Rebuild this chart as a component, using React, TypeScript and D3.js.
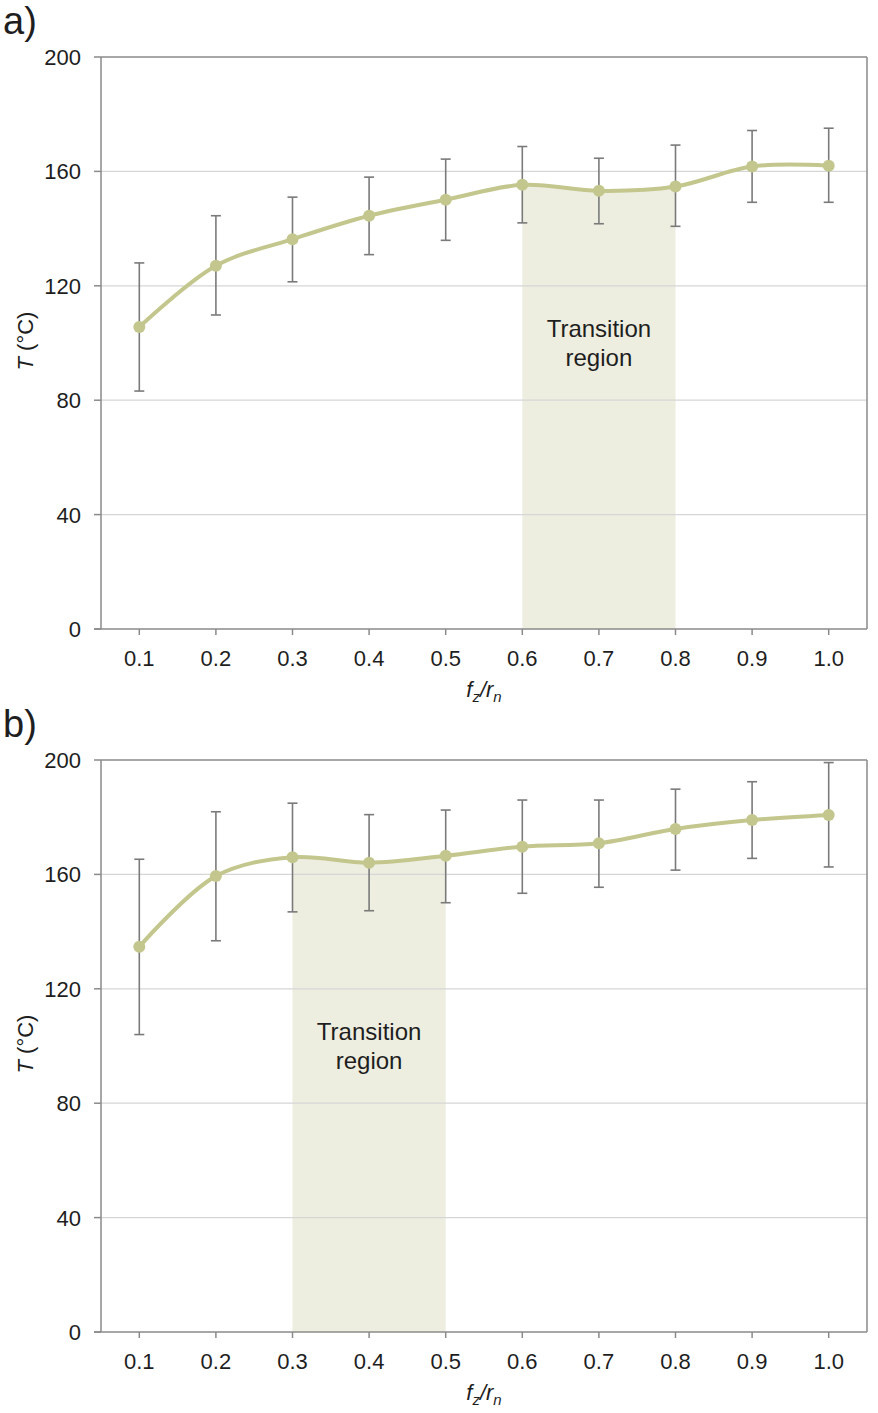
import * as d3 from "d3";

const xLabels = ["0.1", "0.2", "0.3", "0.4", "0.5", "0.6", "0.7", "0.8", "0.9", "1.0"];
const yTicks = [0, 40, 80, 120, 160, 200];

// panel a
const tempA = [105.6, 127, 136.3, 144.5, 150.1, 155.3, 153.2, 154.7, 161.7, 162];
const errHighA = [128, 144.5, 151, 158, 164.3, 168.7, 164.6, 169.2, 174.3, 175.1];
const errLowA = [83.2, 109.8, 121.4, 130.9, 135.9, 142, 141.7, 140.8, 149.2, 149.2];
const transitionA = ["0.6", "0.8"];

// panel b
const tempB = [134.7, 159.4, 166, 164.1, 166.5, 169.7, 170.9, 175.9, 179, 180.8];
const errHighB = [165.3, 181.9, 184.9, 180.9, 182.5, 186, 186, 189.8, 192.4, 199.1];
const errLowB = [104, 136.8, 146.9, 147.3, 150.1, 153.4, 155.5, 161.5, 165.6, 162.6];
const transitionB = ["0.3", "0.5"];

const FONT = "Liberation Sans, Arial, Helvetica, sans-serif";
const LINE = "#c3c78d";
const SHADE = "#eeeee0";
const AXIS = "#8a8a8a";
const GRID = "#d6d6d6";
const ERR = "#7a7a7a";
const TXT = "#1e1e1e";

interface PanelProps {
  tag: string;
  top: number;
  values: number[];
  high: number[];
  low: number[];
  shade: string[];
}

function Panel({ tag, top, values, high, low, shade }: PanelProps) {
  const left = 101;
  const right = 867;
  const plotH = 572;
  const bottom = top + plotH;

  const x = d3.scaleBand<string>().domain(xLabels).range([left, right]).padding(0);
  const cx = (c: string) => (x(c) ?? 0) + x.bandwidth() / 2;
  const y = d3.scaleLinear().domain([0, 200]).range([bottom, top]);

  type Pt = { c: string; v: number; hi: number; lo: number };
  const pts: Pt[] = xLabels.map((c, i) => ({ c, v: values[i], hi: high[i], lo: low[i] }));
  const curve = d3.curveCatmullRom.alpha(0.5);
  const line = d3
    .line<Pt>()
    .x((d) => cx(d.c))
    .y((d) => y(d.v))
    .curve(curve);
  const area = d3
    .area<Pt>()
    .x((d) => cx(d.c))
    .y0(bottom)
    .y1((d) => y(d.v))
    .curve(curve);

  const sx0 = cx(shade[0]);
  const sx1 = cx(shade[1]);
  const clipId = `clip-${tag.replace(")", "")}`;

  return (
    <g fontFamily={FONT}>
      <defs>
        <clipPath id={clipId}>
          <rect x={sx0} y={top} width={sx1 - sx0} height={plotH} />
        </clipPath>
      </defs>
      <text x={3} y={top - 23} fontSize={38} fill={TXT}>
        {tag}
      </text>
      <path d={area(pts) ?? ""} fill={SHADE} clipPath={`url(#${clipId})`} />
      {yTicks
        .filter((t) => t > 0 && t < 200)
        .map((t) => (
          <line key={t} x1={left} x2={right} y1={y(t)} y2={y(t)} stroke={GRID} strokeWidth={1.2} />
        ))}
      <text x={(sx0 + sx1) / 2} y={y(105) + 8} textAnchor="middle" fontSize={24} fill={TXT}>
        Transition
      </text>
      <text x={(sx0 + sx1) / 2} y={y(105) + 37} textAnchor="middle" fontSize={24} fill={TXT}>
        region
      </text>
      {/* frame */}
      <line x1={left} x2={right} y1={top} y2={top} stroke={AXIS} strokeWidth={1.5} />
      <line x1={right} x2={right} y1={top} y2={bottom} stroke={AXIS} strokeWidth={1.5} />
      <line x1={left} x2={left} y1={top} y2={bottom} stroke={AXIS} strokeWidth={1.5} />
      <line x1={left - 7} x2={right} y1={bottom} y2={bottom} stroke={AXIS} strokeWidth={1.5} />
      {yTicks.map((t) => (
        <g key={t}>
          <line x1={left - 7} x2={left} y1={y(t)} y2={y(t)} stroke={AXIS} strokeWidth={1.5} />
          <text x={81} y={y(t) + 8} textAnchor="end" fontSize={22} fill={TXT}>
            {t}
          </text>
        </g>
      ))}
      {xLabels.map((c) => (
        <g key={c}>
          <line x1={cx(c)} x2={cx(c)} y1={bottom} y2={bottom + 6} stroke={AXIS} strokeWidth={1.5} />
          <text x={cx(c)} y={bottom + 37} textAnchor="middle" fontSize={22} fill={TXT}>
            {c}
          </text>
        </g>
      ))}
      <text x={484} y={bottom + 68} textAnchor="middle" fontSize={22} fill={TXT} fontStyle="italic">
        f<tspan fontSize={15} dy={5}>z</tspan>
        <tspan dy={-5}>/r</tspan>
        <tspan fontSize={15} dy={5}>n</tspan>
      </text>
      <text
        transform={`translate(33,${(top + bottom) / 2 - 2}) rotate(-90)`}
        textAnchor="middle"
        fontSize={22}
        fill={TXT}
      >
        <tspan fontStyle="italic">T</tspan> (°C)
      </text>
      {/* error bars */}
      {pts.map((d) => (
        <g key={d.c} stroke={ERR} strokeWidth={1.6}>
          <line x1={cx(d.c)} x2={cx(d.c)} y1={y(d.hi)} y2={y(d.lo)} />
          <line x1={cx(d.c) - 5} x2={cx(d.c) + 5} y1={y(d.hi)} y2={y(d.hi)} />
          <line x1={cx(d.c) - 5} x2={cx(d.c) + 5} y1={y(d.lo)} y2={y(d.lo)} />
        </g>
      ))}
      <path d={line(pts) ?? ""} fill="none" stroke={LINE} strokeWidth={4} />
      {pts.map((d) => (
        <circle key={d.c} cx={cx(d.c)} cy={y(d.v)} r={6} fill={LINE} />
      ))}
    </g>
  );
}

export default function App() {
  return (
    <svg
      width={878}
      height={1413}
      style={{ position: "absolute", left: 0, top: 0, background: "#fff" }}
    >
      <rect width={878} height={1413} fill="#fff" />
      <Panel tag="a)" top={57} values={tempA} high={errHighA} low={errLowA} shade={transitionA} />
      <Panel tag="b)" top={760} values={tempB} high={errHighB} low={errLowB} shade={transitionB} />
    </svg>
  );
}
